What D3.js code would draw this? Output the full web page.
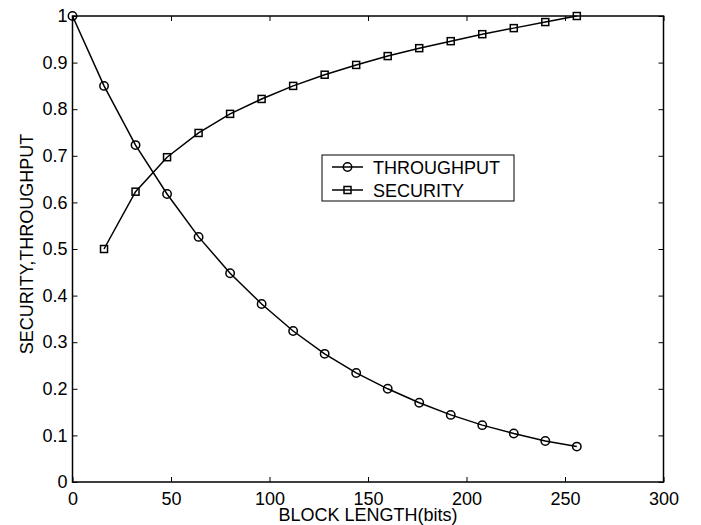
<!DOCTYPE html>
<html><head><meta charset="utf-8">
<script src="https://cdn.jsdelivr.net/npm/d3@7"></script>
<style>body{margin:0;background:#fff}svg{display:block}text{font-family:"Liberation Sans",Arial,sans-serif;font-size:18px;fill:#000}</style>
</head><body><svg id="c" width="701" height="525"></svg>
<script>
const blockLength = [0,16,32,48,64,80,96,112,128,144,160,176,192,208,224,240,256];
const throughput = [1,0.850,0.723,0.618,0.526,0.448,0.382,0.324,0.275,0.234,0.200,0.170,0.144,0.122,0.104,0.088,0.076];
const secX = [16,32,48,64,80,96,112,128,144,160,176,192,208,224,240,256];
const security = [0.500,0.623,0.697,0.749,0.790,0.822,0.850,0.874,0.895,0.914,0.931,0.946,0.961,0.974,0.987,1.0];
const xTicks = [0,50,100,150,200,250,300];
const yTicks = [0,0.1,0.2,0.3,0.4,0.5,0.6,0.7,0.8,0.9,1];
const yTickLabels = ["0","0.1","0.2","0.3","0.4","0.5","0.6","0.7","0.8","0.9","1"];
const seriesNames = ["THROUGHPUT","SECURITY"];

const L=72.5,R=663.5,T=16,B=482;
const svg=d3.select("#c");
const x=d3.scaleLinear().domain([0,300]).range([L,R]);
const y=d3.scaleLinear().domain([0,1]).range([B,T]);

// axes with inward ticks
const gx=svg.append("g").attr("transform",`translate(0,${B})`)
  .call(d3.axisBottom(x).tickValues(xTicks).tickFormat(d3.format("d")).tickSize(-5).tickPadding(10));
const gxt=svg.append("g").attr("transform",`translate(0,${T})`)
  .call(d3.axisTop(x).tickValues(xTicks).tickFormat("").tickSize(-5));
const gy=svg.append("g").attr("transform",`translate(${L},0)`)
  .call(d3.axisLeft(y).tickValues(yTicks).tickFormat((d,i)=>yTickLabels[i]).tickSize(-5).tickPadding(5));
const gyr=svg.append("g").attr("transform",`translate(${R},0)`)
  .call(d3.axisRight(y).tickValues(yTicks).tickFormat("").tickSize(-5));
[gx,gxt,gy,gyr].forEach(g=>{
  g.select(".domain").remove();
  g.selectAll("line").attr("stroke","#000").attr("stroke-width",1);
  g.selectAll("text").attr("font-size",18).attr("font-family",null).attr("fill","#000");
});
svg.append("rect").attr("x",L).attr("y",T).attr("width",R-L).attr("height",B-T)
  .attr("fill","none").attr("stroke","#000").attr("stroke-width",1.5);

// axis labels
svg.append("text").attr("x",(L+R)/2).attr("y",521).attr("font-size",17).attr("text-anchor","middle").text("BLOCK LENGTH(bits)");
svg.append("text").attr("transform",`translate(33,${(T+B)/2 - 5}) rotate(-90)`).attr("text-anchor","middle").text("SECURITY,THROUGHPUT");

const line=d3.line().x(d=>x(d[0])).y(d=>y(d[1]));
const tp=blockLength.map((b,i)=>[b,throughput[i]]);
const sc=secX.map((b,i)=>[b,security[i]]);
svg.append("path").datum(tp).attr("d",line).attr("fill","none").attr("stroke","#000").attr("stroke-width",1.5);
svg.append("path").datum(sc).attr("d",line).attr("fill","none").attr("stroke","#000").attr("stroke-width",1.5);
svg.selectAll("circle.m").data(tp).join("circle").attr("class","m")
  .attr("cx",d=>x(d[0])).attr("cy",d=>y(d[1])).attr("r",4.2)
  .attr("fill","none").attr("stroke","#000").attr("stroke-width",1.5);
svg.selectAll("rect.m").data(sc).join("rect").attr("class","m")
  .attr("x",d=>x(d[0])-3.5).attr("y",d=>y(d[1])-3.5).attr("width",7).attr("height",7)
  .attr("fill","none").attr("stroke","#000").attr("stroke-width",1.5);

// legend
const lg=svg.append("g");
lg.append("rect").attr("x",322).attr("y",155).attr("width",192).attr("height",46)
  .attr("fill","#fff").attr("stroke","#000").attr("stroke-width",1);
seriesNames.forEach((n,i)=>{
  const yy=167+i*23;
  lg.append("line").attr("x1",332).attr("x2",363).attr("y1",yy).attr("y2",yy).attr("stroke","#000").attr("stroke-width",1.5);
  if(i===0) lg.append("circle").attr("cx",347.5).attr("cy",yy).attr("r",4.2).attr("fill","none").attr("stroke","#000").attr("stroke-width",1.5);
  else lg.append("rect").attr("x",344).attr("y",yy-3.5).attr("width",7).attr("height",7).attr("fill","none").attr("stroke","#000").attr("stroke-width",1.5);
  lg.append("text").attr("x",373).attr("y",yy+6.5).text(n);
});
</script></body></html>
